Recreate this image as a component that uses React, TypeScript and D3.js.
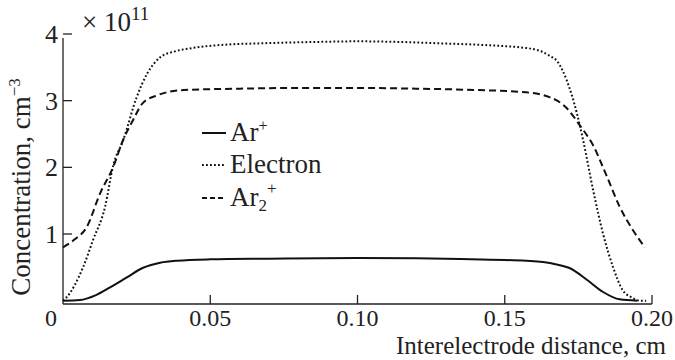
import React from 'react';
import * as d3 from 'd3';

// Ar+ (solid)
const arX = [0, 0.0058, 0.011, 0.016, 0.0217, 0.027, 0.033, 0.0387, 0.05, 0.07, 0.10, 0.12, 0.135, 0.15, 0.163, 0.168, 0.172, 0.178, 0.1834, 0.189, 0.195];
const arY = [0, 0.01, 0.08, 0.2, 0.35, 0.49, 0.57, 0.6, 0.62, 0.63, 0.64, 0.635, 0.625, 0.61, 0.58, 0.54, 0.49, 0.31, 0.13, 0.02, 0];

// Electron (dotted)
const elX = [0, 0.001, 0.0069, 0.0102, 0.0143, 0.017, 0.0204, 0.025, 0.0285, 0.033, 0.038, 0.044, 0.055, 0.067, 0.085, 0.10, 0.115, 0.128, 0.145, 0.155, 0.161, 0.165, 0.168, 0.171, 0.1745, 0.1766, 0.18, 0.1834, 0.1868, 0.19, 0.193, 0.196, 0.198];
const elY = [0, 0.04, 0.51, 0.91, 1.41, 2.02, 2.4, 3.05, 3.4, 3.65, 3.74, 3.79, 3.84, 3.86, 3.88, 3.89, 3.88, 3.86, 3.83, 3.8, 3.76, 3.68, 3.58, 3.31, 2.81, 2.41, 1.66, 1.0, 0.5, 0.16, 0.05, 0, 0];

// Ar2+ (dashed)
const ar2X = [0, 0.004, 0.008, 0.0126, 0.017, 0.0204, 0.0238, 0.027, 0.032, 0.041, 0.06, 0.08, 0.10, 0.12, 0.14, 0.156, 0.1654, 0.171, 0.1755, 0.18, 0.1847, 0.189, 0.1935, 0.1976];
const ar2Y = [0.8, 0.92, 1.1, 1.61, 2.0, 2.41, 2.71, 2.96, 3.08, 3.16, 3.18, 3.19, 3.19, 3.18, 3.16, 3.13, 3.05, 2.89, 2.63, 2.33, 1.86, 1.41, 1.06, 0.8];

const xTicks = [0, 0.05, 0.10, 0.15, 0.20];
const xTickLabels = ['0', '0.05', '0.10', '0.15', '0.20'];
const yTicks = [1, 2, 3, 4];

const FONT = '"Liberation Serif", "Times New Roman", serif';

function App() {
  const width = 675;
  const height = 360;
  const margin = { left: 63, right: 23, top: 34, bottom: 56 };

  const x = d3.scaleLinear().domain([0, 0.2]).range([margin.left, width - margin.right]);
  const y = d3.scaleLinear().domain([-0.05, 4]).range([height - margin.bottom, margin.top]);

  const line = d3.line<[number, number]>()
    .x(d => x(d[0]))
    .y(d => y(d[1]))
    .curve(d3.curveMonotoneX);

  const series = [
    { xs: arX, ys: arY, dash: 'none', w: 2 },
    { xs: elX, ys: elY, dash: '1.8,2.2', w: 2 },
    { xs: ar2X, ys: ar2Y, dash: '7,4', w: 2 },
  ];

  const legend = [
    { dash: 'none', w: 2, y: 133, label: <>Ar<tspan dy={-10} fontSize={16}>+</tspan></> },
    { dash: '1.8,2.2', w: 2, y: 165, label: <>Electron</> },
    { dash: '5,3', w: 2, y: 198, label: <>Ar<tspan dy={5} fontSize={17}>2</tspan><tspan dy={-17} fontSize={17}>+</tspan></> },
  ];

  const x0 = x(0);
  const y0 = height - margin.bottom;

  return (
    <svg width={width} height={height} style={{ position: 'absolute', left: 0, top: 0, background: 'white' }} fontFamily={FONT}>
      {/* axes */}
      <line x1={x0} y1={y0} x2={x(0.2)} y2={y0} stroke="#222" strokeWidth={1.3} />
      <line x1={x0} y1={y0} x2={x0} y2={y(4) + 4} stroke="#222" strokeWidth={1.3} />
      {xTicks.map((t, i) => (
        <g key={'xt' + i}>
          {i > 0 && <line x1={x(t)} x2={x(t)} y1={y0} y2={y0 - 9} stroke="#222" strokeWidth={1.3} />}
          <text x={x(t) - (i === 0 ? 12 : 0)} y={y0 + 22} textAnchor="middle" fontSize={24} fill="#222">{xTickLabels[i]}</text>
        </g>
      ))}
      {yTicks.map(t => (
        <g key={'yt' + t}>
          <line x1={x0} x2={x0 + 9} y1={y(t)} y2={y(t)} stroke="#222" strokeWidth={1.3} />
          <text x={x0 - 5} y={y(t) + 9} textAnchor="end" fontSize={26} fill="#222">{t}</text>
        </g>
      ))}
      <text x={82} y={31} fontSize={27} fill="#222">× 10<tspan dy={-11} fontSize={19}>11</tspan></text>
      <text x={666} y={354} textAnchor="end" fontSize={25} fill="#222">Interelectrode distance, cm</text>
      <text transform={`translate(30, ${(y0 + 70) / 2}) rotate(-90)`} textAnchor="middle" fontSize={27} fill="#222">
        Concentration, cm<tspan dy={-10} fontSize={17}>−3</tspan>
      </text>

      {/* curves */}
      {series.map((s, i) => (
        <path key={'s' + i}
          d={line(s.xs.map((v, j) => [v, s.ys[j]] as [number, number])) || ''}
          fill="none" stroke="#111" strokeWidth={s.w} strokeDasharray={s.dash} />
      ))}

      {/* legend */}
      {legend.map((l, i) => (
        <g key={'lg' + i}>
          <line x1={202} x2={226} y1={l.y} y2={l.y} stroke="#111" strokeWidth={l.w} strokeDasharray={l.dash} />
          <text x={230} y={l.y + 8} fontSize={27} fill="#222">{l.label}</text>
        </g>
      ))}
    </svg>
  );
}

export default App;
